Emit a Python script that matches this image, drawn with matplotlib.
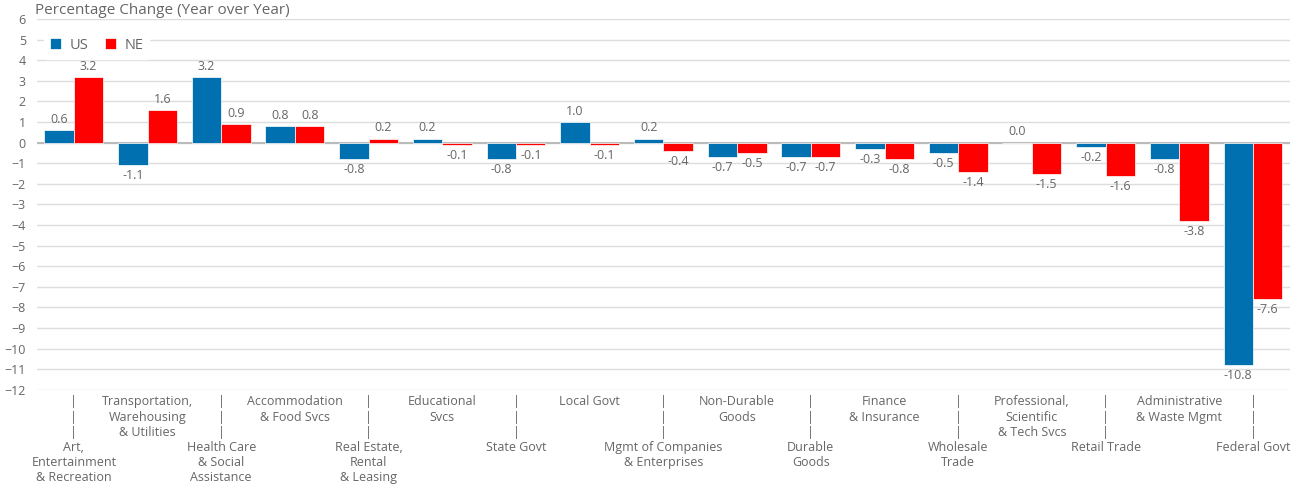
import matplotlib
matplotlib.use("Agg")
import matplotlib.pyplot as plt
import numpy as np

plt.rcParams.update({
    "font.family": ["Open Sans", "DejaVu Sans"],
    "font.size": 9,
    "axes.spines.top": False,
    "axes.spines.right": False,
    "axes.spines.left": False,
    "axes.spines.bottom": False,
})

categories = [
    "Art,\nEntertainment\n& Recreation",
    "Transportation,\nWarehousing\n& Utilities",
    "Health Care\n& Social\nAssistance",
    "Accommodation\n& Food Svcs",
    "Real Estate,\nRental\n& Leasing",
    "Educational\nSvcs",
    "State Govt",
    "Local Govt",
    "Mgmt of Companies\n& Enterprises",
    "Non-Durable\nGoods",
    "Durable\nGoods",
    "Finance\n& Insurance",
    "Wholesale\nTrade",
    "Professional,\nScientific\n& Tech Svcs",
    "Retail Trade",
    "Administrative\n& Waste Mgmt",
    "Federal Govt",
]
us = [0.6, -1.1, 3.2, 0.8, -0.8, 0.2, -0.8, 1.0, 0.2, -0.7, -0.7, -0.3, -0.5, 0.0, -0.2, -0.8, -10.8]
ne = [3.2, 1.6, 0.9, 0.8, 0.2, -0.1, -0.1, -0.1, -0.4, -0.5, -0.7, -0.8, -1.4, -1.5, -1.6, -3.8, -7.6]

US_COLOR = "#0070B0"
NE_COLOR = "#FF0000"
TEXT = "#666666"

fig = plt.figure(figsize=(12.97, 4.88), dpi=100)
ax = fig.add_axes([0.0285, 0.201, 0.966, 0.760])

x = np.arange(len(categories))
w = 0.4
b_us = ax.bar(x - w / 2, us, w, color=US_COLOR, edgecolor="white", linewidth=0.5, label="US", zorder=3)
b_ne = ax.bar(x + w / 2, ne, w, color=NE_COLOR, edgecolor="white", linewidth=0.5, label="NE", zorder=3)

for bars, vals in ((b_us, us), (b_ne, ne)):
    for r, v in zip(bars, vals):
        cx = r.get_x() + r.get_width() / 2
        off = 3 if v >= 0 else -3
        ax.annotate(f"{v:.1f}", (cx, v), xytext=(0, off), textcoords="offset points",
                    ha="center", va="bottom" if v >= 0 else "top",
                    fontsize=9, color=TEXT, zorder=4)

ax.set_xlim(-0.5, len(categories) - 0.5)
ax.set_ylim(-12, 6)
ax.set_yticks(np.arange(-12, 7, 1))
ax.yaxis.grid(True, color="#dddddd", linewidth=1, zorder=0)
ax.axhline(0, color="#bbbbbb", linewidth=1.5, zorder=2)
ax.tick_params(axis="both", length=0, colors=TEXT, labelsize=9)
ax.tick_params(axis="y", pad=8)

labels = []
for i, c in enumerate(categories):
    labels.append("|\n|\n|\n" + c if i % 2 == 0 else c)
ax.set_xticks(x)
ax.set_xticklabels(labels, va="top", linespacing=1.22)
ax.tick_params(axis="x", pad=4)

leg = ax.legend(loc="upper left", bbox_to_anchor=(0.0, 0.985), ncol=2, frameon=True,
                fontsize=10.5, handlelength=0.75, handleheight=0.75, columnspacing=1.1,
                handletextpad=0.6, borderpad=0.4)
leg.get_frame().set_edgecolor("white")
leg.get_frame().set_alpha(1)
for t in leg.get_texts():
    t.set_color(TEXT)

fig.text(0.027, 0.993, "Percentage Change (Year over Year)", ha="left", va="top",
         fontsize=11, color=TEXT)

fig.savefig("out.png", dpi=100)
